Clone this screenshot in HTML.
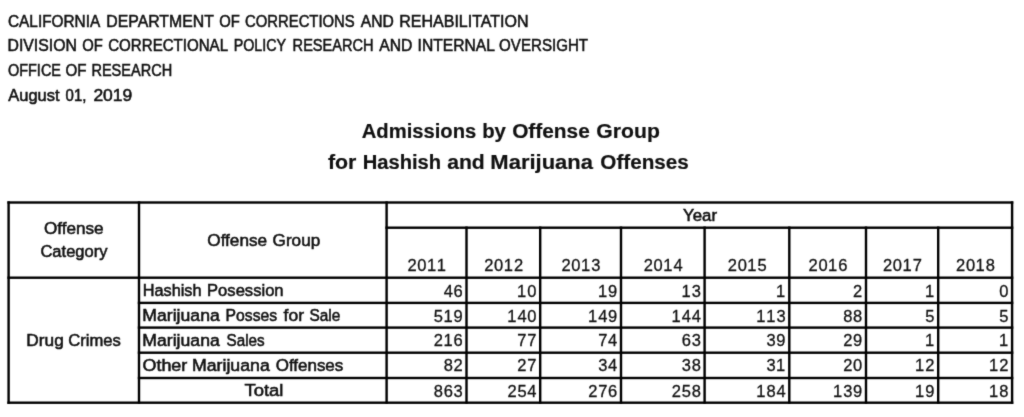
<!DOCTYPE html>
<html><head><meta charset="utf-8"><style>
html,body{margin:0;padding:0;background:#fff;width:1024px;height:417px;overflow:hidden}
svg{display:block} #w{will-change:transform;width:1024px;height:417px;background:#fff}
</style></head><body><div id="w">
<svg width="1024" height="417" viewBox="0 0 1024 417">
<defs><filter id="soft" x="0" y="0" width="1024" height="417" filterUnits="userSpaceOnUse" color-interpolation-filters="sRGB"><feConvolveMatrix order="3" kernelMatrix="0.02 0.08 0.02 0.08 0.6 0.08 0.02 0.08 0.02" edgeMode="duplicate" preserveAlpha="true"/></filter></defs>
<g filter="url(#soft)">
<rect width="1024" height="417" fill="#fff"/>
<g fill="#000">
<rect x="7.40" y="201.30" width="1005.90" height="2.4"/>
<rect x="385.40" y="226.50" width="627.90" height="2.4"/>
<rect x="7.40" y="276.50" width="1005.90" height="2.4"/>
<rect x="137.80" y="301.70" width="875.50" height="2.4"/>
<rect x="137.80" y="326.40" width="875.50" height="2.4"/>
<rect x="137.80" y="351.50" width="875.50" height="2.4"/>
<rect x="137.80" y="376.80" width="875.50" height="2.4"/>
<rect x="7.40" y="401.50" width="1005.90" height="2.4"/>
<rect x="7.40" y="201.30" width="2.4" height="202.60"/>
<rect x="137.80" y="201.30" width="2.4" height="202.60"/>
<rect x="385.40" y="201.30" width="2.4" height="202.60"/>
<rect x="465.30" y="226.50" width="2.4" height="177.40"/>
<rect x="539.00" y="226.50" width="2.4" height="177.40"/>
<rect x="619.80" y="226.50" width="2.4" height="177.40"/>
<rect x="703.40" y="226.50" width="2.4" height="177.40"/>
<rect x="788.10" y="226.50" width="2.4" height="177.40"/>
<rect x="864.80" y="226.50" width="2.4" height="177.40"/>
<rect x="937.00" y="226.50" width="2.4" height="177.40"/>
<rect x="1010.90" y="201.30" width="2.4" height="202.60"/>
</g>
<g fill="#111" stroke="#111" stroke-width="0.55" font-family="Liberation Sans, sans-serif" xml:space="preserve">
<text x="8.01" y="26.73" font-size="16.46" textLength="92.24" lengthAdjust="spacingAndGlyphs">CALIFORNIA</text>
<text x="106.31" y="26.73" font-size="16.46" textLength="107.54" lengthAdjust="spacingAndGlyphs">DEPARTMENT</text>
<text x="219.13" y="26.73" font-size="16.46" textLength="20.56" lengthAdjust="spacingAndGlyphs">OF</text>
<text x="245.03" y="26.73" font-size="16.46" textLength="109.72" lengthAdjust="spacingAndGlyphs">CORRECTIONS</text>
<text x="360.77" y="26.73" font-size="16.46" textLength="33.05" lengthAdjust="spacingAndGlyphs">AND</text>
<text x="399.30" y="26.73" font-size="16.46" textLength="129.19" lengthAdjust="spacingAndGlyphs">REHABILITATION</text>
<text x="7.51" y="51.23" font-size="16.46" textLength="69.37" lengthAdjust="spacingAndGlyphs">DIVISION</text>
<text x="82.23" y="51.23" font-size="16.46" textLength="20.56" lengthAdjust="spacingAndGlyphs">OF</text>
<text x="108.22" y="51.23" font-size="16.46" textLength="119.84" lengthAdjust="spacingAndGlyphs">CORRECTIONAL</text>
<text x="233.73" y="51.23" font-size="16.46" textLength="52.39" lengthAdjust="spacingAndGlyphs">POLICY</text>
<text x="292.61" y="51.23" font-size="16.46" textLength="81.04" lengthAdjust="spacingAndGlyphs">RESEARCH</text>
<text x="379.27" y="51.23" font-size="16.46" textLength="33.16" lengthAdjust="spacingAndGlyphs">AND</text>
<text x="417.57" y="51.23" font-size="16.46" textLength="77.31" lengthAdjust="spacingAndGlyphs">INTERNAL</text>
<text x="499.12" y="51.23" font-size="16.46" textLength="88.90" lengthAdjust="spacingAndGlyphs">OVERSIGHT</text>
<text x="7.95" y="76.43" font-size="16.46" textLength="53.05" lengthAdjust="spacingAndGlyphs">OFFICE</text>
<text x="65.42" y="76.43" font-size="16.46" textLength="20.99" lengthAdjust="spacingAndGlyphs">OF</text>
<text x="91.41" y="76.43" font-size="16.46" textLength="80.83" lengthAdjust="spacingAndGlyphs">RESEARCH</text>
<text x="8.28" y="101.23" font-size="16.46" textLength="51.30" lengthAdjust="spacingAndGlyphs">August</text>
<text x="65.58" y="101.23" font-size="16.46" textLength="20.80" lengthAdjust="spacingAndGlyphs">01,</text>
<text x="93.40" y="101.23" font-size="16.46" textLength="38.91" lengthAdjust="spacingAndGlyphs">2019</text>
<text x="361.79" y="137.94" font-size="20.35" textLength="114.47" lengthAdjust="spacingAndGlyphs" font-weight="bold" stroke-width="0.2">Admissions</text>
<text x="482.17" y="137.94" font-size="20.35" textLength="23.77" lengthAdjust="spacingAndGlyphs" font-weight="bold" stroke-width="0.2">by</text>
<text x="512.17" y="137.94" font-size="20.35" textLength="77.63" lengthAdjust="spacingAndGlyphs" font-weight="bold" stroke-width="0.2">Offense</text>
<text x="596.35" y="137.94" font-size="20.35" textLength="63.48" lengthAdjust="spacingAndGlyphs" font-weight="bold" stroke-width="0.2">Group</text>
<text x="327.97" y="168.74" font-size="20.35" textLength="28.41" lengthAdjust="spacingAndGlyphs" font-weight="bold" stroke-width="0.2">for</text>
<text x="362.69" y="168.74" font-size="20.35" textLength="78.42" lengthAdjust="spacingAndGlyphs" font-weight="bold" stroke-width="0.2">Hashish</text>
<text x="447.17" y="168.74" font-size="20.35" textLength="37.57" lengthAdjust="spacingAndGlyphs" font-weight="bold" stroke-width="0.2">and</text>
<text x="490.36" y="168.74" font-size="20.35" textLength="102.59" lengthAdjust="spacingAndGlyphs" font-weight="bold" stroke-width="0.2">Marijuana</text>
<text x="600.37" y="168.74" font-size="20.35" textLength="88.44" lengthAdjust="spacingAndGlyphs" font-weight="bold" stroke-width="0.2">Offenses</text>
<text x="43.92" y="233.53" font-size="16.75" textLength="59.66" lengthAdjust="spacingAndGlyphs">Offense</text>
<text x="40.45" y="257.23" font-size="16.75" textLength="67.00" lengthAdjust="spacingAndGlyphs">Category</text>
<text x="207.32" y="245.94" font-size="16.75" textLength="59.76" lengthAdjust="spacingAndGlyphs">Offense</text>
<text x="272.62" y="245.94" font-size="16.75" textLength="47.58" lengthAdjust="spacingAndGlyphs">Group</text>
<text x="683.07" y="220.84" font-size="16.75" textLength="33.90" lengthAdjust="spacingAndGlyphs">Year</text>
<text x="142.67" y="295.73" font-size="16.75" textLength="58.88" lengthAdjust="spacingAndGlyphs">Hashish</text>
<text x="207.05" y="295.73" font-size="16.75" textLength="76.54" lengthAdjust="spacingAndGlyphs">Posession</text>
<text x="142.37" y="320.73" font-size="16.75" textLength="77.38" lengthAdjust="spacingAndGlyphs">Marijuana</text>
<text x="225.62" y="320.73" font-size="16.75" textLength="51.63" lengthAdjust="spacingAndGlyphs">Posses</text>
<text x="283.60" y="320.73" font-size="16.75" textLength="20.42" lengthAdjust="spacingAndGlyphs">for</text>
<text x="309.40" y="320.73" font-size="16.75" textLength="30.86" lengthAdjust="spacingAndGlyphs">Sale</text>
<text x="142.37" y="345.73" font-size="16.75" textLength="77.38" lengthAdjust="spacingAndGlyphs">Marijuana</text>
<text x="226.61" y="345.73" font-size="16.75" textLength="38.09" lengthAdjust="spacingAndGlyphs">Sales</text>
<text x="142.48" y="370.73" font-size="16.75" textLength="44.82" lengthAdjust="spacingAndGlyphs">Other</text>
<text x="191.96" y="370.73" font-size="16.75" textLength="77.79" lengthAdjust="spacingAndGlyphs">Marijuana</text>
<text x="275.73" y="370.73" font-size="16.75" textLength="67.57" lengthAdjust="spacingAndGlyphs">Offenses</text>
<text x="244.41" y="395.83" font-size="16.75" textLength="39.07" lengthAdjust="spacingAndGlyphs">Total</text>
<text x="26.39" y="345.53" font-size="16.75" textLength="37.39" lengthAdjust="spacingAndGlyphs">Drug</text>
<text x="68.34" y="345.53" font-size="16.75" textLength="52.59" lengthAdjust="spacingAndGlyphs">Crimes</text>
<text x="407.38 417.28 426.93 436.83" y="271.20" font-size="16.50" stroke-width="0.3">2011</text>
<text x="484.18 494.08 503.73 513.88" y="271.20" font-size="16.50" stroke-width="0.3">2012</text>
<text x="561.43 571.33 580.98 591.21" y="271.20" font-size="16.50" stroke-width="0.3">2013</text>
<text x="643.63 653.53 663.18 673.41" y="271.20" font-size="16.50" stroke-width="0.3">2014</text>
<text x="727.78 737.68 747.33 757.56" y="271.20" font-size="16.50" stroke-width="0.3">2015</text>
<text x="808.48 818.38 828.03 838.18" y="271.20" font-size="16.50" stroke-width="0.3">2016</text>
<text x="882.93 892.83 902.48 912.63" y="271.20" font-size="16.50" stroke-width="0.3">2017</text>
<text x="955.98 965.88 975.53 985.76" y="271.20" font-size="16.50" stroke-width="0.3">2018</text>
<text x="443.71 453.53" y="296.60" font-size="16.50" stroke-width="0.3">46</text>
<text x="517.08 527.23" y="296.60" font-size="16.50" stroke-width="0.3">10</text>
<text x="597.88 608.03" y="296.60" font-size="16.50" stroke-width="0.3">19</text>
<text x="681.48 691.71" y="296.60" font-size="16.50" stroke-width="0.3">13</text>
<text x="776.08" y="296.60" font-size="16.50" stroke-width="0.3">1</text>
<text x="853.03" y="296.60" font-size="16.50" stroke-width="0.3">2</text>
<text x="924.98" y="296.60" font-size="16.50" stroke-width="0.3">1</text>
<text x="999.13" y="296.60" font-size="16.50" stroke-width="0.3">0</text>
<text x="433.81 443.38 453.53" y="321.50" font-size="16.50" stroke-width="0.3">519</text>
<text x="507.18 517.41 527.23" y="321.50" font-size="16.50" stroke-width="0.3">140</text>
<text x="587.98 598.21 608.03" y="321.50" font-size="16.50" stroke-width="0.3">149</text>
<text x="671.58 681.81 691.71" y="321.50" font-size="16.50" stroke-width="0.3">144</text>
<text x="756.28 766.18 776.41" y="321.50" font-size="16.50" stroke-width="0.3">113</text>
<text x="843.21 853.11" y="321.50" font-size="16.50" stroke-width="0.3">88</text>
<text x="925.31" y="321.50" font-size="16.50" stroke-width="0.3">5</text>
<text x="999.21" y="321.50" font-size="16.50" stroke-width="0.3">5</text>
<text x="433.73 443.38 453.53" y="346.40" font-size="16.50" stroke-width="0.3">216</text>
<text x="517.33 527.23" y="346.40" font-size="16.50" stroke-width="0.3">77</text>
<text x="598.13 608.11" y="346.40" font-size="16.50" stroke-width="0.3">74</text>
<text x="681.73 691.71" y="346.40" font-size="16.50" stroke-width="0.3">63</text>
<text x="766.51 776.33" y="346.40" font-size="16.50" stroke-width="0.3">39</text>
<text x="843.13 853.03" y="346.40" font-size="16.50" stroke-width="0.3">29</text>
<text x="924.98" y="346.40" font-size="16.50" stroke-width="0.3">1</text>
<text x="998.88" y="346.40" font-size="16.50" stroke-width="0.3">1</text>
<text x="443.71 453.53" y="371.40" font-size="16.50" stroke-width="0.3">82</text>
<text x="517.33 527.23" y="371.40" font-size="16.50" stroke-width="0.3">27</text>
<text x="598.21 608.11" y="371.40" font-size="16.50" stroke-width="0.3">34</text>
<text x="681.81 691.71" y="371.40" font-size="16.50" stroke-width="0.3">38</text>
<text x="766.51 776.08" y="371.40" font-size="16.50" stroke-width="0.3">31</text>
<text x="843.13 853.03" y="371.40" font-size="16.50" stroke-width="0.3">20</text>
<text x="915.08 925.23" y="371.40" font-size="16.50" stroke-width="0.3">12</text>
<text x="988.98 999.13" y="371.40" font-size="16.50" stroke-width="0.3">12</text>
<text x="433.81 443.63 453.61" y="396.60" font-size="16.50" stroke-width="0.3">863</text>
<text x="507.43 517.41 527.31" y="396.60" font-size="16.50" stroke-width="0.3">254</text>
<text x="588.23 598.13 608.03" y="396.60" font-size="16.50" stroke-width="0.3">276</text>
<text x="671.83 681.81 691.71" y="396.60" font-size="16.50" stroke-width="0.3">258</text>
<text x="756.28 766.51 776.41" y="396.60" font-size="16.50" stroke-width="0.3">184</text>
<text x="832.98 843.21 853.03" y="396.60" font-size="16.50" stroke-width="0.3">139</text>
<text x="915.08 925.23" y="396.60" font-size="16.50" stroke-width="0.3">19</text>
<text x="988.98 999.21" y="396.60" font-size="16.50" stroke-width="0.3">18</text>
</g>
</g>
</svg></div>
</body></html>
